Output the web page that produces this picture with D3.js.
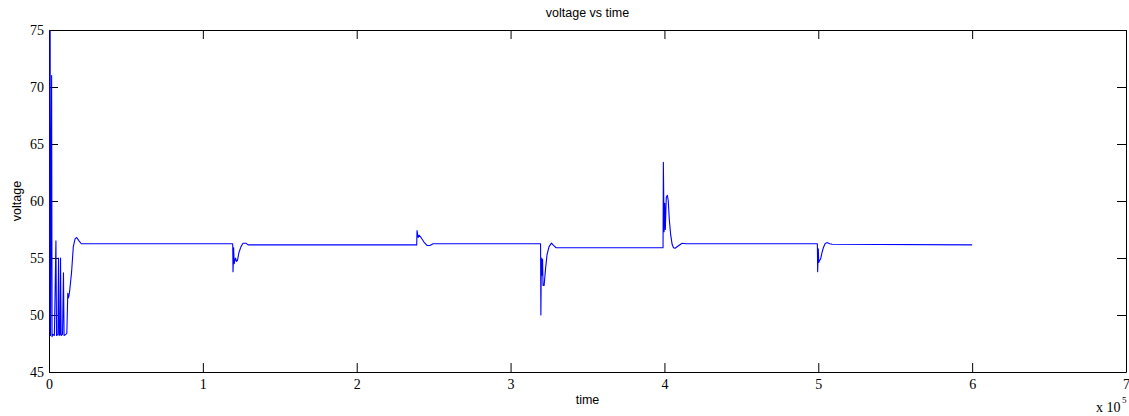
<!DOCTYPE html>
<html>
<head>
<meta charset="utf-8">
<script src="https://cdn.jsdelivr.net/npm/d3@7"></script>
<style>
  html, body { margin: 0; padding: 0; background: #fff; }
  svg { display: block; }
</style>
</head>
<body>
<svg id="chart" width="1129" height="416"></svg>
<script>
// ---- data (time in seconds, voltage) ----
const times = [
  0, 700, 1000, 1700, 2000, 2600, 3500, 4500, 4900, 5800, 6200, 6600, 7200, 7500, 7900,
  8800, 9400, 9800, 11000, 11600, 12200, 12600, 13000, 13500, 14700, 15800, 17000, 18000,
  19500, 21000,
  119400, 119600, 120000, 120400, 121200, 121900, 122500, 123500, 124800, 126100, 128000, 129400,
  239000, 239200, 239900, 240500, 241800, 243700, 245700, 247600, 249600,
  319500, 319700, 320000, 320400, 320800, 321100, 321800, 322700, 323700, 325000, 326600, 327900, 329600,
  399100, 399300, 399800, 400200, 400600, 401200, 401900, 402500, 403200, 404100, 405000, 405900,
  406900, 408900, 411500, 414000,
  499400, 499600, 500000, 500300, 500800, 501500, 502300, 503300, 504400, 505600, 507400, 509000,
  600000
];
const voltages = [
  48.5, 80, 48.2, 71, 48.1, 48.3, 48.2, 56.5, 48.2, 48.3, 55, 48.2, 48.3, 55, 48.2,
  48.3, 53.7, 48.2, 48.3, 48.4, 51.9, 51.5, 51.7, 52.2, 53.8, 56, 56.7, 56.8,
  56.5, 56.25,
  56.25, 53.8, 55.9, 54.5, 55.0, 54.7, 54.8, 55.5, 56.0, 56.3, 56.3, 56.15,
  56.15, 57.4, 56.8, 57.0, 56.8, 56.4, 56.1, 56.1, 56.25,
  56.25, 50.0, 55.0, 53.5, 54.9, 52.6, 52.6, 54.0, 55.3, 56.0, 56.3, 56.1, 55.9,
  55.9, 63.4, 57.3, 59.8, 57.5, 60.3, 60.5, 60.0, 58.3, 57.0, 56.2, 55.9,
  55.85, 56.05, 56.3, 56.25,
  56.25, 53.8, 55.8, 54.6, 54.8, 54.9, 55.4, 55.9, 56.25, 56.35, 56.25, 56.2,
  56.15
];
const xTicks = [0, 100000, 200000, 300000, 400000, 500000, 600000, 700000];
const yTicks = [45, 50, 55, 60, 65, 70, 75];
const titleText = "voltage vs time";
const xLabelText = "time";
const yLabelText = "voltage";

// ---- layout ----
const svg = d3.select("#chart");
const L = 49, R = 1126, T = 30, B = 372;
const x = d3.scaleLinear().domain([0, 700000]).range([L, R]);
const y = d3.scaleLinear().domain([45, 75]).range([B, T]);

svg.append("rect").attr("width", 1129).attr("height", 416).attr("fill", "#fff");

svg.append("defs").append("clipPath").attr("id", "clip")
  .append("rect").attr("x", L).attr("y", T).attr("width", R - L).attr("height", B - T);

const tickFont = "'Liberation Serif', 'Times New Roman', serif";
function styleAxis(g) {
  g.selectAll("path.domain").attr("stroke", "#000").attr("stroke-width", 1);
  g.selectAll(".tick line").attr("stroke", "#000").attr("stroke-width", 1);
  g.selectAll(".tick text").attr("fill", "#000").attr("font-family", tickFont).attr("font-size", 14);
}

svg.append("g").attr("transform", `translate(0,${B})`)
  .call(d3.axisBottom(x).tickValues(xTicks).tickFormat(d => d / 100000)
    .tickSizeInner(-9).tickSizeOuter(0).tickPadding(7))
  .call(styleAxis);
svg.append("g").attr("transform", `translate(0,${T})`)
  .call(d3.axisTop(x).tickValues(xTicks).tickFormat("")
    .tickSizeInner(-9).tickSizeOuter(0))
  .call(styleAxis);
svg.append("g").attr("transform", `translate(${L},0)`)
  .call(d3.axisLeft(y).tickValues(yTicks)
    .tickSizeInner(-9).tickSizeOuter(0).tickPadding(5))
  .call(styleAxis);
svg.append("g").attr("transform", `translate(${R},0)`)
  .call(d3.axisRight(y).tickValues(yTicks).tickFormat("")
    .tickSizeInner(-9).tickSizeOuter(0))
  .call(styleAxis);

svg.selectAll("g").attr("font-family", null);

const pts = times.map((t, i) => [t, voltages[i]]);
const line = d3.line().x(d => x(d[0])).y(d => y(d[1]));
svg.append("path")
  .attr("d", line(pts))
  .attr("fill", "none")
  .attr("stroke", "#0000ff")
  .attr("stroke-width", 1.1)
  .attr("stroke-linejoin", "round")
  .attr("clip-path", "url(#clip)");

const sans = "'Liberation Sans', Arial, sans-serif";
svg.append("text").attr("x", (L + R) / 2).attr("y", 17)
  .attr("text-anchor", "middle").attr("font-family", sans).attr("font-size", 12.5)
  .attr("fill", "#000").text(titleText);
svg.append("text").attr("x", (L + R) / 2).attr("y", 404)
  .attr("text-anchor", "middle").attr("font-family", sans).attr("font-size", 12.5)
  .attr("fill", "#000").text(xLabelText);
svg.append("text").attr("transform", `translate(21,${(T + B) / 2}) rotate(-90)`)
  .attr("text-anchor", "middle").attr("font-family", sans).attr("font-size", 12.5)
  .attr("fill", "#000").text(yLabelText);

const exp = svg.append("text").attr("x", 1096).attr("y", 412)
  .attr("font-family", tickFont).attr("font-size", 14).attr("fill", "#000");
exp.append("tspan").text("x 10");
exp.append("tspan").attr("x", 1122).attr("y", 403).attr("font-size", 9).text("5");
</script>
</body>
</html>
